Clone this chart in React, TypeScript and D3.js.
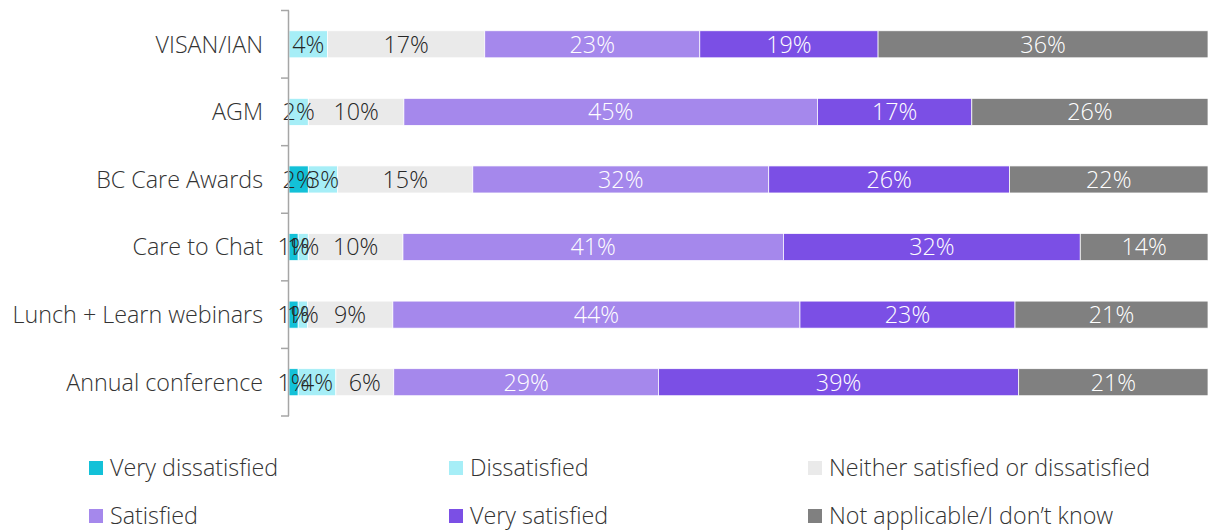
import React from "react";
import * as d3 from "d3";

const categories = ["VISAN/IAN", "AGM", "BC Care Awards", "Care to Chat", "Lunch + Learn webinars", "Annual conference"];
const seriesNames = ["Very dissatisfied", "Dissatisfied", "Neither satisfied or dissatisfied", "Satisfied", "Very satisfied", "Not applicable/I don\u2019t know"];
const veryDissatisfied = [0, 0, 2.1, 1.0, 1.0, 1.0];
const dissatisfied = [4.2, 2.1, 3.2, 1.1, 1.0, 4.1];
const neither = [17.1, 10.4, 14.7, 10.3, 9.3, 6.3];
const satisfied = [23.4, 45.0, 32.2, 41.4, 44.3, 28.8];
const verySatisfied = [19.4, 16.8, 26.2, 32.3, 23.4, 39.2];
const notApplicable = [35.9, 25.7, 21.6, 13.9, 21.0, 20.6];
const xTicks = [0, 100];

const colors = ["#13C1D8", "#A6EEF7", "#EAEAEA", "#A588EC", "#7B4FE5", "#808080"];
const labelColors = ["#262626", "#262626", "#262626", "#FFFFFF", "#FFFFFF", "#FFFFFF"];

const W = 1208;
const H = 531;
const FONT = "'Open Sans', sans-serif";
const FS = 23.3;

export default function App() {
  const series = [veryDissatisfied, dissatisfied, neither, satisfied, verySatisfied, notApplicable];
  const rows = categories.map((c, i) => {
    const obj: any = { cat: c };
    seriesNames.forEach((s, k) => (obj[s] = series[k][i]));
    return obj;
  });
  const stack = d3.stack<any>().keys(seriesNames)(rows);

  const x0 = 289;
  const x = d3.scaleLinear().domain([xTicks[0], xTicks[1]]).range([x0, 1208]);
  const y = d3.scaleBand<string>().domain(categories).range([10.5, 416]).paddingInner(0.6).paddingOuter(0.3);
  const band = d3.scaleBand<string>().domain(categories).range([10.5, 416]);
  const tickYs = categories.map((c) => band(c)!).concat([416]);

  const legendCols = [89, 449, 808];
  const legendRows = [468, 516];

  return (
    <svg width={W} height={H} style={{ position: "absolute", left: 0, top: 0 }}>
      <rect width={W} height={H} fill="#fff" />
      {stack.map((layer, k) =>
        layer.map((d, i) => {
          const w = x(d[1]) - x(d[0]);
          if (w <= 0) return null;
          return (
            <rect key={`${k}-${i}`} x={x(d[0])} y={y(categories[i])} width={w} height={y.bandwidth()}
              fill={colors[k]} stroke="#fff" strokeWidth={0.75} />
          );
        })
      )}
      {stack.map((layer, k) =>
        layer.map((d, i) => {
          const v = d[1] - d[0];
          if (v <= 0) return null;
          return (
            <text key={`t${k}-${i}`} x={(x(d[0]) + x(d[1])) / 2} y={y(categories[i])! + y.bandwidth() / 2}
              dy="0.36em" textAnchor="middle" fontFamily={FONT} fontWeight={300} fontSize={FS} fill={labelColors[k]}>
              {Math.round(v)}%
            </text>
          );
        })
      )}
      <line x1={x0 - 0.5} x2={x0 - 0.5} y1={10.5} y2={416} stroke="#A6A6A6" strokeWidth={1.5} />
      {tickYs.map((t, i) => (
        <line key={i} x1={281} x2={x0} y1={t} y2={t} stroke="#A6A6A6" strokeWidth={1.5} />
      ))}
      {categories.map((c) => (
        <text key={c} x={263} y={y(c)! + y.bandwidth() / 2} dy="0.36em" textAnchor="end"
          fontFamily={FONT} fontWeight={300} fontSize={FS} fill="#333333">{c}</text>
      ))}
      {seriesNames.map((s, k) => {
        const col = k % 3;
        const row = Math.floor(k / 3);
        const lx = legendCols[col];
        const ly = legendRows[row];
        return (
          <g key={s}>
            <rect x={lx} y={ly - 7} width={14} height={14} fill={colors[k]} />
            <text x={lx + 21} y={ly} dy="0.36em" fontFamily={FONT} fontWeight={300} fontSize={FS} fill="#333333">{s}</text>
          </g>
        );
      })}
    </svg>
  );
}
